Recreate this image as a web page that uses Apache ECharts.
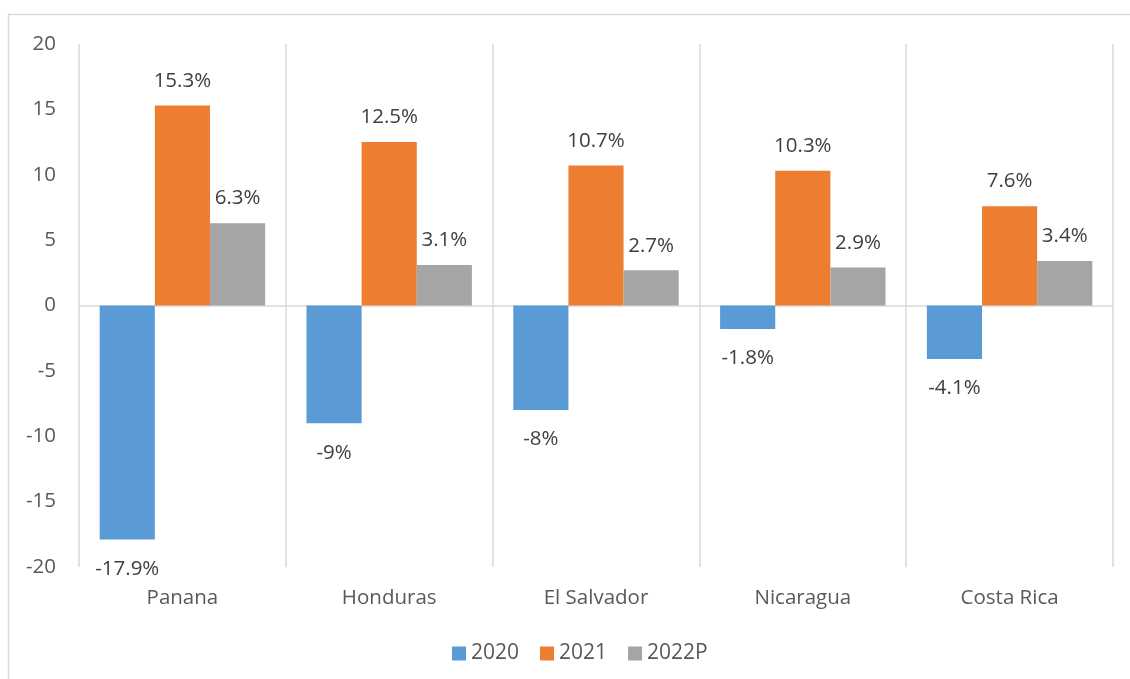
<!DOCTYPE html>
<html>
<head>
<meta charset="utf-8">
<script src="https://cdn.jsdelivr.net/npm/echarts@6/dist/echarts.min.js"></script>
<style>
html,body{margin:0;padding:0;background:#fff;}
#chart{width:1130px;height:679px;}
</style>
</head>
<body>
<div id="chart"></div>
<script>
const categories = ['Panana', 'Honduras', 'El Salvador', 'Nicaragua', 'Costa Rica'];
const seriesNames = ['2020', '2021', '2022P'];
const values2020 = [-17.9, -9, -8, -1.8, -4.1];
const values2021 = [15.3, 12.5, 10.7, 10.3, 7.6];
const values2022P = [6.3, 3.1, 2.7, 2.9, 3.4];
const yTicks = { min: -20, max: 20, interval: 5 };

const colors = ['#5B9BD5', '#ED7D31', '#A5A5A5'];
const FONT = '"Open Sans", Lato, sans-serif';

function makeSeries(name, vals, color) {
  return {
    name: name,
    type: 'bar',
    xAxisIndex: 0,
    barGap: '0%',
    barCategoryGap: '20%',
    itemStyle: { color: color },
    label: {
      show: true,
      color: '#404040',
      fontFamily: FONT,
      fontSize: 20.5,
      formatter: p => p.value + '%'
    },
    data: vals.map(v => ({
      value: v,
      label: v < 0 ? { position: 'bottom', distance: 19 } : { position: 'top', distance: 14 }
    }))
  };
}

const chart = echarts.init(document.getElementById('chart'), null, { renderer: 'canvas' });
chart.setOption({
  animation: false,
  backgroundColor: '#ffffff',
  textStyle: { fontFamily: FONT },
  graphic: [{
    type: 'polyline',
    shape: { points: [[8.5, 679], [8.5, 14.5], [1130, 14.5]] },
    style: { stroke: '#d9d9d9', lineWidth: 1.5, fill: null },
    silent: true
  }],
  grid: { left: 79, right: 17, top: 44, bottom: 112, containLabel: false },
  legend: {
    data: seriesNames,
    left: 447,
    top: 638,
    icon: 'rect',
    itemWidth: 14,
    itemHeight: 14,
    itemGap: 21,
    textStyle: { color: '#595959', fontSize: 21, fontFamily: FONT }
  },
  xAxis: [{
    type: 'category',
    data: categories,
    position: 'bottom',
    axisLine: { show: false, onZero: false },
    axisTick: { show: false },
    splitLine: { show: true, lineStyle: { color: '#d9d9d9', width: 1.5 } },
    axisLabel: { color: '#595959', fontSize: 20.5, margin: 21, fontFamily: FONT }
  }, {
    type: 'category',
    data: categories,
    position: 'bottom',
    axisLine: { show: true, onZero: true, lineStyle: { color: '#d9d9d9', width: 1.5 } },
    axisTick: { show: false },
    axisLabel: { show: false },
    splitLine: { show: false }
  }],
  yAxis: {
    type: 'value',
    min: yTicks.min,
    max: yTicks.max,
    interval: yTicks.interval,
    axisLine: { show: false },
    axisTick: { show: false },
    splitLine: { show: false },
    axisLabel: { color: '#595959', fontSize: 20.5, margin: 23, fontFamily: FONT }
  },
  series: [
    makeSeries(seriesNames[0], values2020, colors[0]),
    makeSeries(seriesNames[1], values2021, colors[1]),
    makeSeries(seriesNames[2], values2022P, colors[2])
  ]
});
</script>
</body>
</html>
